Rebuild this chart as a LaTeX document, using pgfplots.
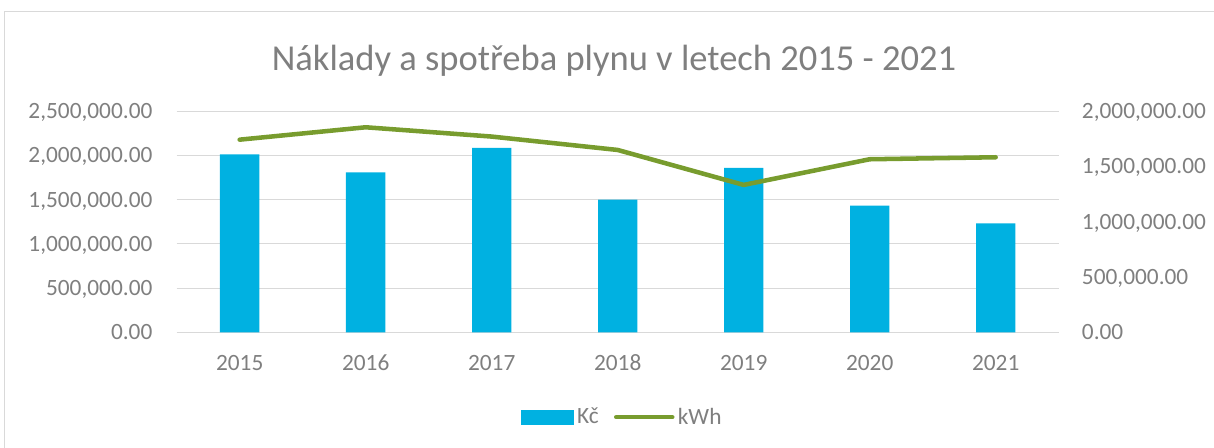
\documentclass[border=0pt]{standalone}
\usepackage{pgfplots}
\pgfplotsset{compat=1.18}
\usepackage{fontspec}
\setmainfont{Carlito}
\definecolor{barblue}{HTML}{00B1E1}
\definecolor{linegreen}{HTML}{789C2E}
\definecolor{gridgray}{HTML}{D9D9D9}
\definecolor{txtgray}{HTML}{7F7F7F}
\begin{document}
\begin{tikzpicture}
\path[use as bounding box] (0,0) rectangle (910.5pt,335.25pt);
\draw[gridgray, line width=0.75pt] (3pt,-10pt) rectangle (920pt,326.25pt);
\node[anchor=base, font=\fontsize{27.4}{32}\selectfont, text=txtgray, inner sep=0pt] at (460.5pt,282pt) {Náklady a spotřeba plynu v letech 2015 - 2021};
\begin{axis}[
  at={(132.5pt,86pt)}, anchor=south west,
  scale only axis, width=661.5pt, height=166pt,
  xmin=-0.5, xmax=6.5, ymin=0, ymax=2500000,
  xtick={0,...,6}, xticklabels={2015,2016,2017,2018,2019,2020,2021},
  ytick={0,500000,...,2500000},
  axis line style={draw=none},
  major tick length=0pt,
  ymajorgrids, grid style={gridgray, line width=0.75pt},
  scaled y ticks=false,
  /pgf/number format/.cd, fixed, fixed zerofill, precision=2, 1000 sep={,}, assume math mode=true,
  /pgfplots/.cd,
  yticklabel style={anchor=east, inner sep=0pt, xshift=-18pt, text depth=0pt, font=\fontsize{17.5}{20}\selectfont, text=txtgray},
  xticklabel style={anchor=base, inner sep=0pt, yshift=-28.5pt, font=\fontsize{17.5}{20}\selectfont, text=txtgray},
  ybar, bar width=29.5pt,
  clip=false,
]
\addplot[fill=barblue, draw=none] coordinates {(0,2011000) (1,1808000) (2,2083000) (3,1498000) (4,1857000) (5,1431000) (6,1232000)};
\end{axis}
\begin{axis}[
  at={(132.5pt,86pt)}, anchor=south west,
  scale only axis, width=661.5pt, height=166pt,
  xmin=-0.5, xmax=6.5, ymin=0, ymax=2000000,
  xtick=\empty,
  ytick={0,500000,...,2000000},
  axis y line*=right, axis x line=none,
  axis line style={draw=none},
  major tick length=0pt,
  scaled y ticks=false,
  /pgf/number format/.cd, fixed, fixed zerofill, precision=2, 1000 sep={,}, assume math mode=true,
  /pgfplots/.cd,
  yticklabel style={anchor=west, inner sep=0pt, xshift=17.25pt, text depth=0pt, font=\fontsize{17.5}{20}\selectfont, text=txtgray},
  legend style={at={(0.3904,-0.383)}, anchor=west, draw=none, inner sep=0pt, font=\fontsize{17.5}{20}\selectfont, text=txtgray, legend columns=2,
    nodes={inner sep=2.5pt},
    /tikz/every even column/.append style={column sep=9pt}},
  legend cell align=left,
  clip=false,
]
\addlegendimage{legend image code/.code={\fill[barblue] (0pt,-5.25pt) rectangle (39pt,5.25pt);}}
\addlegendentry{Kč}
\addplot[linegreen, line width=3.4pt, line cap=round, line join=round, mark=none,
  legend image code/.code={\draw[linegreen, line width=3.4pt, line cap=round] (2pt,0pt) -- (44pt,0pt);}]
  coordinates {(0,1741000) (1,1853000) (2,1769000) (3,1648000) (4,1332000) (5,1564000) (6,1582000)};
\addlegendentry{kWh}
\end{axis}
\end{tikzpicture}
\end{document}
